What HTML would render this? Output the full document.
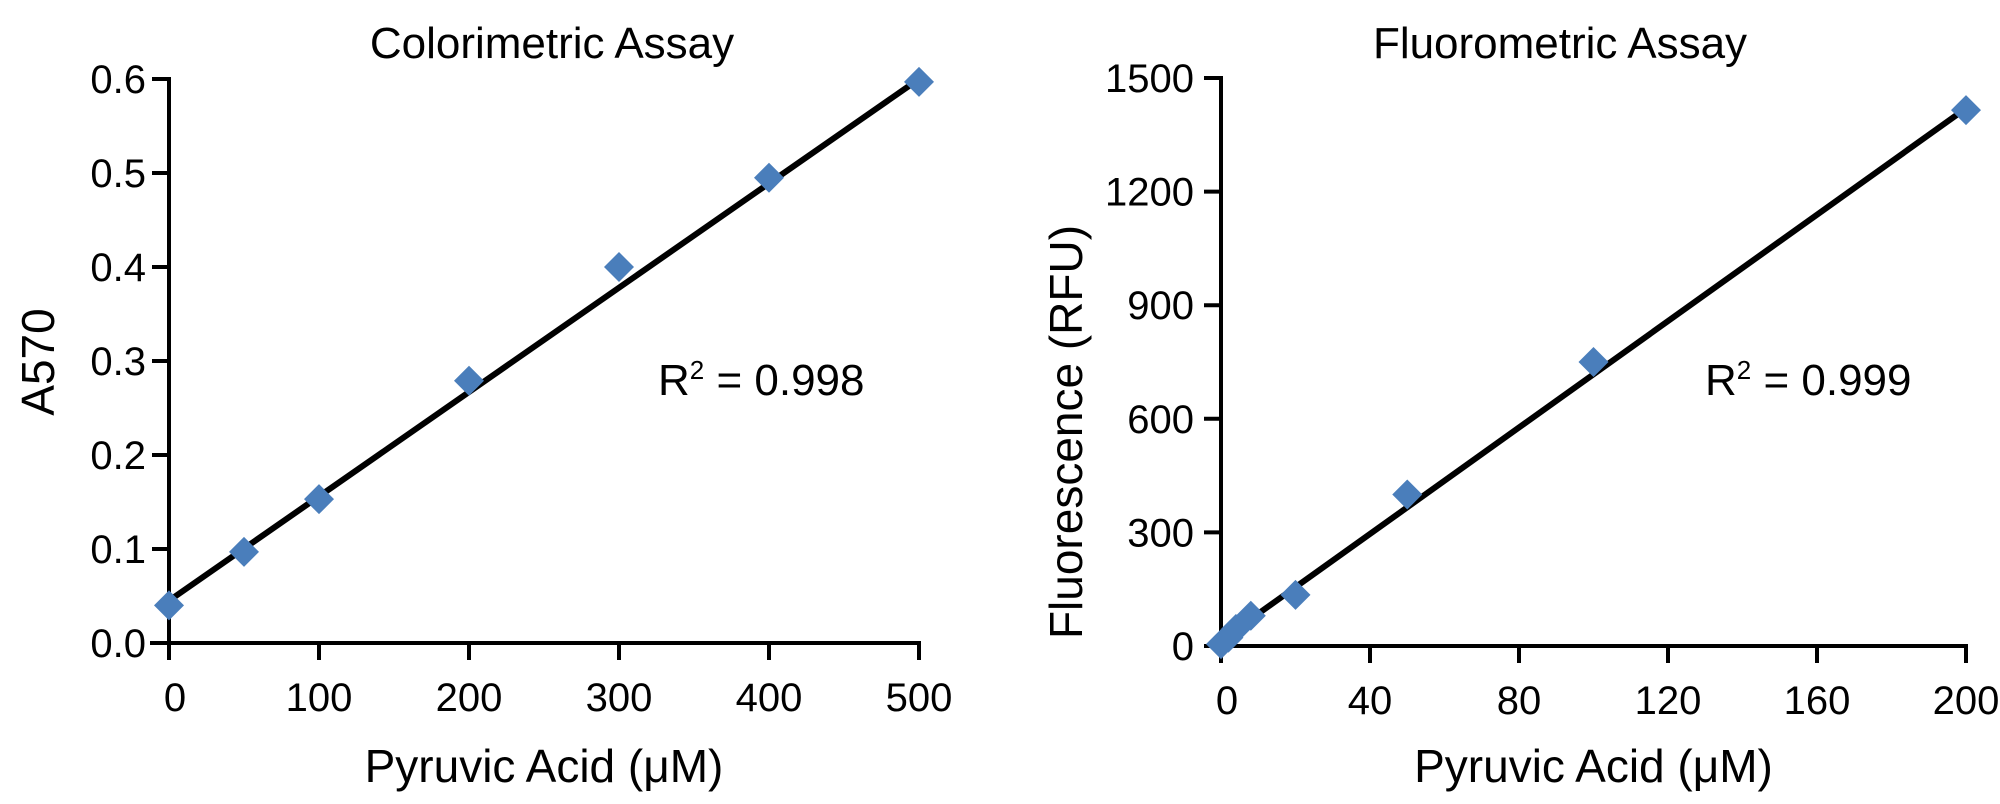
<!DOCTYPE html>
<html><head><meta charset="utf-8"><style>
html,body{margin:0;padding:0;background:#fff}
svg text{font-family:"Liberation Sans",sans-serif;fill:#000}
</style></head><body>
<svg id="c" width="2000" height="799" xmlns="http://www.w3.org/2000/svg"></svg>
<script>
const leftX=[0,50,100,200,300,400,500];
const leftY=[0.04,0.097,0.153,0.279,0.4,0.495,0.597];
const leftFit=[0.045,0.6];
const leftXTicks=[0,100,200,300,400,500];
const leftYTicks=["0.0","0.1","0.2","0.3","0.4","0.5","0.6"];
const rightX=[0,2,4,8,20,50,100,200];
const rightY=[5,22,45,80,135,400,750,1415];
const rightFit=[15,1420];
const rightXTicks=[0,40,80,120,160,200];
const rightYTicks=[0,300,600,900,1200,1500];
const NS="http://www.w3.org/2000/svg";
const svg=document.getElementById('c');
function mk(t,a,txt,parent){const e=document.createElementNS(NS,t);for(const k in a)e.setAttribute(k,a[k]);if(txt!==undefined)e.textContent=txt;(parent||svg).appendChild(e);return e;}
function panel(o){
  const g=mk('g',{});
  
  
  const sx=v=>o.x0+(v-o.xmin)/(o.xmax-o.xmin)*(o.x1-o.x0);
  const sy=v=>o.y0-(v-o.ymin)/(o.ymax-o.ymin)*(o.y0-o.y1);
  const xa=mk('line',{x1:o.axStart,y1:o.y0,x2:sx(o.xmax)+2,y2:o.y0,stroke:'#000','stroke-width':4},undefined,g);
  
  const ya=mk('line',{x1:sx(o.xmin),y1:o.y0+2,x2:sx(o.xmin),y2:o.y1-2,stroke:'#000','stroke-width':4},undefined,g);
  
  o.xt.forEach(v=>{const x=sx(v);
    mk('line',{x1:x,y1:o.y0,x2:x,y2:o.y0+17,stroke:'#000','stroke-width':4},undefined,g);
    const t=mk('text',{x:x+(v===0?6:0),y:o.y0+68,'text-anchor':'middle','font-size':40},String(v),g);
    });
  o.yt.forEach(s=>{const y=sy(parseFloat(s));
    mk('line',{x1:sx(o.xmin)-17,y1:y,x2:sx(o.xmin),y2:y,stroke:'#000','stroke-width':4},undefined,g);
    const t=mk('text',{x:o.ylabX,y:y+14,'text-anchor':'end','font-size':40},String(s),g);
    });
  const fl=mk('line',{x1:sx(o.xmin),y1:sy(o.fit[0]),x2:sx(o.xmax),y2:sy(o.fit[1]),stroke:'#000','stroke-width':6},undefined,g);
  
  o.xs.forEach((v,i)=>{const x=sx(v),y=sy(o.ys[i]),r=15;
    const p=mk('polygon',{points:`${x},${y-r} ${x+r},${y} ${x},${y+r} ${x-r},${y}`,fill:'#4a7ebb'},undefined,g);
    });
  const ti=mk('text',{x:o.titleX,y:58,'text-anchor':'middle','font-size':44},o.title,g);
  
  const xt=mk('text',{x:(sx(o.xmin)+sx(o.xmax))/2,y:782,'text-anchor':'middle','font-size':46},'Pyruvic Acid (μM)',g);
  
  const yt=mk('text',{x:0,y:0,'text-anchor':'middle','font-size':46,transform:`translate(${o.ytX},${o.ytY}) rotate(-90)`},o.ytitle,g);
  
  const r2=mk('text',{x:o.r2X,y:395,'font-size':44},'',g);
  
  mk('tspan',{},'R',r2);mk('tspan',{dy:-16,'font-size':26},'2',r2);mk('tspan',{dy:16},' = '+o.r2,r2);
}
panel({name:'colorimetric-panel',x0:169,x1:919,y0:643,y1:79,xmin:0,xmax:500,ymin:0,ymax:0.6,axStart:150,
  xs:leftX,ys:leftY,fit:leftFit,xt:leftXTicks,yt:leftYTicks,ylabX:146,title:'Colorimetric Assay',titleX:552,
  ytitle:'A570',ytX:54,ytY:362,r2X:658,r2:'0.998'});
panel({name:'fluorometric-panel',x0:1221,x1:1966,y0:646,y1:78,xmin:0,xmax:200,ymin:0,ymax:1500,axStart:1205,
  xs:rightX,ys:rightY,fit:rightFit,xt:rightXTicks,yt:rightYTicks,ylabX:1194,title:'Fluorometric Assay',titleX:1560,
  ytitle:'Fluorescence (RFU)',ytX:1082,ytY:432,r2X:1705,r2:'0.999'});
</script>
</body></html>
